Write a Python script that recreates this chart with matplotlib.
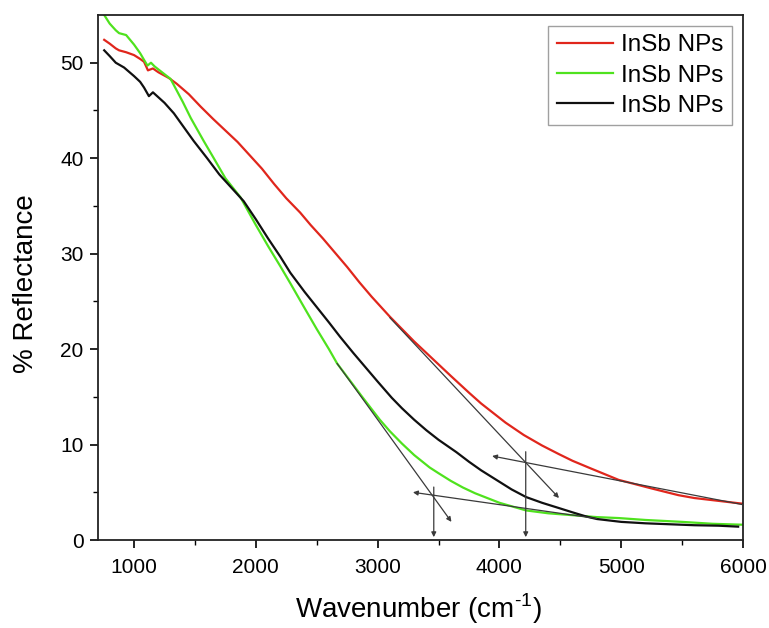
import matplotlib
matplotlib.use("Agg")
import matplotlib.pyplot as plt

plt.rcParams['font.family'] = ['Liberation Sans', 'DejaVu Sans']
plt.rcParams['mathtext.fontset'] = 'custom'
plt.rcParams['mathtext.rm'] = 'Liberation Sans'

# ---------------- data ----------------
red_x = [755, 800, 850, 877, 935, 1000, 1050, 1082, 1114, 1155, 1200, 1286, 1350, 1450, 1547,
         1650, 1750, 1850, 1950, 2050, 2150, 2250, 2364, 2450, 2550, 2650, 2750, 2850, 2950,
         3100, 3200, 3300, 3400, 3500, 3600, 3753, 3850, 3950, 4050, 4200, 4350, 4488, 4600,
         4750, 4979, 5100, 5250, 5469, 5600, 5800, 6000]
red_y = [52.4, 52.0, 51.5, 51.3, 51.1, 50.8, 50.4, 50.1, 49.2, 49.4, 49.0, 48.4, 47.8, 46.7, 45.4,
         44.1, 42.9, 41.7, 40.3, 38.9, 37.3, 35.8, 34.3, 33.0, 31.6, 30.1, 28.6, 27.0, 25.5,
         23.4, 22.1, 20.8, 19.6, 18.4, 17.2, 15.4, 14.3, 13.3, 12.3, 11.0, 9.9, 9.0, 8.3,
         7.5, 6.3, 5.9, 5.4, 4.7, 4.4, 4.1, 3.8]

green_x = [755, 800, 850, 877, 935, 1000, 1050, 1082, 1110, 1139, 1170, 1250, 1300, 1400, 1466,
           1572, 1650, 1750, 1874, 2000, 2100, 2200, 2283, 2400, 2500, 2600, 2667, 2779, 2879,
           3018, 3100, 3200, 3300, 3427, 3500, 3600, 3700, 3800, 3900, 4000, 4219, 4400, 4600,
           4800, 4980, 5200, 5500, 5750, 6000]
green_y = [55.0, 54.1, 53.4, 53.1, 52.9, 51.9, 51.0, 50.3, 49.7, 50.0, 49.6, 48.8, 48.3, 45.9, 44.2,
           41.8, 40.1, 37.9, 35.9, 33.0, 30.8, 28.7, 26.9, 24.3, 22.1, 20.0, 18.5, 16.6, 14.9,
           12.6, 11.4, 10.1, 8.9, 7.6, 7.0, 6.2, 5.5, 4.9, 4.4, 3.9, 3.1, 2.8, 2.6,
           2.4, 2.3, 2.1, 1.9, 1.7, 1.6]

black_x = [755, 800, 850, 918, 1000, 1050, 1082, 1122, 1155, 1250, 1327, 1400, 1490, 1600, 1700,
           1800, 1900, 2000, 2100, 2200, 2283, 2400, 2500, 2600, 2691, 2800, 2900, 3000, 3116,
           3200, 3300, 3400, 3500, 3647, 3750, 3850, 4000, 4100, 4219, 4350, 4488, 4600, 4690,
           4733, 4800, 5000, 5200, 5400, 5600, 5800, 5960]
black_y = [51.3, 50.7, 50.0, 49.5, 48.6, 48.0, 47.4, 46.5, 46.9, 45.8, 44.7, 43.4, 41.8, 40.0, 38.3,
           36.9, 35.5, 33.6, 31.6, 29.7, 28.0, 26.0, 24.4, 22.8, 21.3, 19.6, 18.1, 16.6, 14.9,
           13.8, 12.6, 11.5, 10.5, 9.2, 8.2, 7.3, 6.1, 5.3, 4.5, 3.9, 3.35, 2.9, 2.55,
           2.4, 2.2, 1.9, 1.75, 1.65, 1.55, 1.5, 1.4]

series_labels = ["InSb NPs", "InSb NPs", "InSb NPs"]

# tangent / construction lines: (start, end) with arrow at end
tangent_lines = [
    ((2667, 18.5), (3606, 1.9)),    # steep tangent, green curve
    ((4800, 2.25), (3290, 5.0)),    # baseline tangent, green curve
    ((3100, 23.3), (4489, 4.4)),    # steep tangent, red curve
    ((6000, 3.7), (3940, 8.8)),     # baseline tangent, red curve
    ((3461, 5.55), (3461, 0.3)),    # vertical marker
    ((4216, 9.25), (4216, 0.3)),    # vertical marker
]

x_ticks = [1000, 2000, 3000, 4000, 5000, 6000]
y_ticks = [0, 10, 20, 30, 40, 50]

# ---------------- figure ----------------
fig = plt.figure(figsize=(7.69, 6.28), dpi=100)
ax = fig.add_axes([0.1268, 0.1401, 0.9662 - 0.1268, 0.9761 - 0.1401])

ax.plot(red_x, red_y, color='#e0261c', lw=1.6, label=series_labels[0])
ax.plot(green_x, green_y, color='#4fe21e', lw=1.6, label=series_labels[1])
ax.plot(black_x, black_y, color='#101010', lw=1.6, label=series_labels[2])

for (x0, y0), (x1, y1) in tangent_lines:
    ax.annotate('', xy=(x1, y1), xytext=(x0, y0),
                arrowprops=dict(arrowstyle='-|>', color='#3a3a3a', lw=0.9,
                                mutation_scale=7, shrinkA=0, shrinkB=0))

ax.set_xlim(700, 6000)
ax.set_ylim(0, 55)
ax.set_xticks(x_ticks)
ax.set_yticks(y_ticks)
ax.set_xticks([1500, 2500, 3500, 4500, 5500], minor=True)
ax.set_yticks([5, 15, 25, 35, 45], minor=True)
ax.tick_params(which='major', direction='out', length=6, width=1.2, labelsize=15,
               top=False, right=False)
ax.tick_params(axis='x', which='major', pad=7)
ax.tick_params(axis='y', which='major', pad=4)
ax.tick_params(which='minor', direction='out', length=3.5, width=1.0, top=False, right=False)
for s in ax.spines.values():
    s.set_linewidth(1.3)
    s.set_color('#222222')

ax.set_xlabel('Wavenumber (cm$^{\\mathregular{\u2010}\\mathregular{1}}$)', fontsize=20)
ax.xaxis.set_label_coords(0.498, -0.098)
ax.set_ylabel('% Reflectance', fontsize=20)
ax.yaxis.set_label_coords(-0.09, 0.488)

leg = ax.legend(loc='upper right', fontsize=17.5, frameon=True, fancybox=False,
                edgecolor='#a0a0a0', framealpha=1, borderaxespad=0.45,
                handlelength=2.3, handletextpad=0.35, labelspacing=0.33, borderpad=0.35)
leg.get_frame().set_linewidth(1.0)

fig.savefig('out.png', dpi=100)
